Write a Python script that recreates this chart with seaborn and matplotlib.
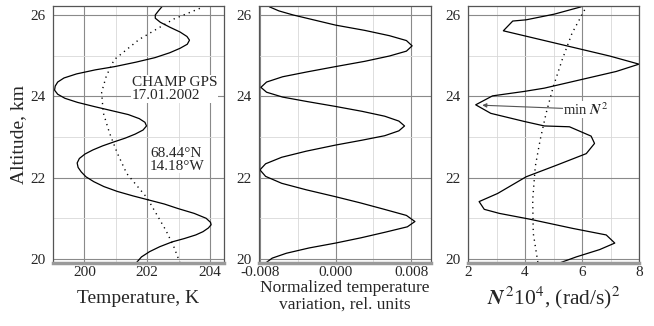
import matplotlib
matplotlib.use("Agg")
import matplotlib.pyplot as plt
import seaborn as sns
import numpy as np
import pandas as pd
from matplotlib.ticker import MultipleLocator, FixedLocator, FixedFormatter

# ---------------- data ----------------
# Panel 1: temperature profile (solid) and background (dotted)
temp_alt = [26.20, 26.10, 26.00, 25.92, 25.82, 25.70, 25.58, 25.47, 25.38, 25.28,
            25.18, 25.07, 24.95, 24.84, 24.73, 24.65, 24.55, 24.45, 24.35, 24.25,
            24.15, 24.05, 23.95, 23.85, 23.75, 23.65, 23.55, 23.45, 23.36, 23.27,
            23.17, 23.07, 22.97, 22.88, 22.78, 22.68, 22.58, 22.47, 22.36, 22.25,
            22.14, 22.02, 21.90, 21.78, 21.66, 21.55, 21.45, 21.35, 21.24, 21.12,
            21.00, 20.90, 20.84, 20.76, 20.67, 20.59, 20.50, 20.42, 20.30, 20.18,
            20.05, 19.90]
temp_val = [202.47, 202.36, 202.26, 202.26, 202.42, 202.72, 203.05, 203.27, 203.35, 203.28,
            203.05, 202.72, 202.25, 201.65, 200.97, 200.35, 199.75, 199.35, 199.15, 199.07,
            199.05, 199.15, 199.38, 199.78, 200.30, 200.85, 201.40, 201.75, 201.93, 201.98,
            201.87, 201.62, 201.30, 200.95, 200.58, 200.27, 200.02, 199.84, 199.77, 199.80,
            199.90, 200.05, 200.30, 200.62, 201.05, 201.55, 202.05, 202.55, 202.98, 203.50,
            203.88, 204.02, 204.04, 203.95, 203.78, 203.55, 203.18, 202.80, 202.40, 202.08,
            201.82, 201.65]
bg_alt = [19.9, 20.3, 20.7, 21.1, 21.5, 22.1, 22.6, 23.1, 23.6, 24.1, 24.5, 24.9, 25.4, 25.9, 26.2]
bg_val = [203.05, 202.85, 202.60, 202.30, 202.00, 201.35, 201.05, 200.80, 200.60, 200.55,
          200.70, 200.95, 201.75, 202.85, 203.80]

# Panel 2: normalized temperature variation
var_alt = [26.20, 26.10, 26.00, 25.90, 25.80, 25.75, 25.62, 25.49, 25.37, 25.24,
           25.11, 24.99, 24.86, 24.73, 24.60, 24.48, 24.35, 24.22, 24.10, 23.98,
           23.87, 23.75, 23.63, 23.51, 23.39, 23.27, 23.15, 23.03, 22.92, 22.80,
           22.65, 22.50, 22.34, 22.19, 22.03, 21.86, 21.70, 21.53, 21.38, 21.23,
           21.07, 20.92, 20.79, 20.66, 20.52, 20.39, 20.27, 20.14, 20.02, 19.90]
var_val = [-0.0070, -0.0060, -0.0045, -0.0027, -0.0009, 0.0000, 0.0031, 0.0057, 0.0075, 0.0081,
           0.0075, 0.0057, 0.0031, 0.0000, -0.0030, -0.0056, -0.0073, -0.0079, -0.0073, -0.0056,
           -0.0030, 0.0000, 0.0028, 0.0052, 0.0067, 0.0073, 0.0067, 0.0052, 0.0028, 0.0000,
           -0.0031, -0.0057, -0.0074, -0.0080, -0.0074, -0.0057, -0.0031, 0.0000, 0.0026, 0.0050,
           0.0075, 0.0084, 0.0076, 0.0053, 0.0027, 0.0000, -0.0028, -0.0052, -0.0067, -0.0074]

# Panel 3: N^2 * 1e4 (solid) and background (dotted)
n2_alt = [26.20, 26.02, 25.88, 25.85, 25.61, 24.99, 24.79, 24.61, 24.20, 24.12,
          24.01, 23.79, 23.58, 23.38, 23.27, 23.25, 23.02, 22.84, 22.59, 22.30,
          22.02, 21.61, 21.41, 21.22, 21.12, 20.98, 20.75, 20.59, 20.39, 20.23,
          20.05, 19.90]
n2_val = [5.97, 5.03, 4.04, 3.57, 3.24, 6.97, 8.00, 7.20, 4.68, 3.98,
          2.86, 2.27, 2.80, 3.98, 4.68, 5.56, 6.32, 6.44, 6.15, 5.09,
          4.04, 3.04, 2.39, 2.57, 3.10, 4.15, 5.68, 6.85, 7.15, 6.62,
          5.80, 5.21]
n2bg_alt = [19.92, 20.63, 21.45, 22.27, 22.92, 23.58, 24.23, 24.89, 25.55, 26.20]
n2bg_val = [4.45, 4.29, 4.27, 4.36, 4.53, 4.74, 4.99, 5.30, 5.65, 6.15]

alt_ticks = [20, 22, 24, 26]
p1_ticks = [200, 202, 204]
p2_ticks = [-0.008, 0.000, 0.008]
p2_labels = ["-0.008", "0.000", "0.008"]
p3_ticks = [2, 4, 6, 8]

# ---------------- style ----------------
sns.set_style("white")
plt.rcParams["font.family"] = ["Liberation Serif", "DejaVu Serif"]
plt.rcParams["mathtext.fontset"] = "stix"
plt.rcParams["axes.unicode_minus"] = False

fig = plt.figure(figsize=(6.54, 3.26), dpi=100)
H = 326.0
W = 654.0
bottom = 1 - 263 / H
height = (263 - 6) / H
axes = [
    fig.add_axes([53 / W, bottom, (224 - 53) / W, height]),
    fig.add_axes([259 / W, bottom, (431 - 259) / W, height]),
    fig.add_axes([468 / W, bottom, (639 - 468) / W, height]),
]

def style(ax, xlim, xticks, xminor):
    ax.set_ylim(19.9, 26.22)
    ax.set_xlim(*xlim)
    ax.yaxis.set_major_locator(FixedLocator(alt_ticks))
    ax.yaxis.set_minor_locator(FixedLocator([21, 23, 25]))
    ax.xaxis.set_major_locator(FixedLocator(xticks))
    ax.xaxis.set_minor_locator(MultipleLocator(xminor))
    ax.grid(which="major", color="#8a8a8a", linewidth=0.8, zorder=0)
    ax.grid(which="minor", color="#d8d8d8", linewidth=0.6, zorder=0)
    ax.set_axisbelow(True)
    for s in ["left", "top", "right"]:
        ax.spines[s].set_color("#555555")
        ax.spines[s].set_linewidth(0.9)
    ax.spines["bottom"].set_color("#9a9a9a")
    ax.spines["bottom"].set_linewidth(2.5)
    ax.tick_params(axis="y", which="major", direction="out", length=4, width=0.8,
                   color="#333333", labelsize=11, pad=1)
    ax.tick_params(axis="y", which="minor", length=0)
    ax.tick_params(axis="x", which="major", direction="in", length=0, labelsize=11, pad=2)
    ax.tick_params(axis="x", which="minor", direction="in", length=3, width=0.8, color="#333333")
    ax.set_ylabel("")

ax1, ax2, ax3 = axes
dotted = (0, (0.9, 3.0))

# Panel 1
sns.lineplot(x=temp_val, y=temp_alt, sort=False, estimator=None, color="black",
             linewidth=0.9, ax=ax1)
sns.lineplot(x=bg_val, y=bg_alt, sort=False, estimator=None, color="black",
             linewidth=1.0, linestyle=dotted, ax=ax1)
style(ax1, (199.0, 204.45), p1_ticks, 1)
ax1.set_xlabel("Temperature, K", fontsize=14, labelpad=8)
ax1.set_ylabel("Altitude, km", fontsize=14, labelpad=3)
ax1.text(201.52, 24.50, "CHAMP GPS\n17.01.2002", fontsize=11, ha="left", va="top",
         linespacing=1.0, zorder=5,
         bbox=dict(facecolor="white", edgecolor="none", pad=0.5))
ax1.text(202.09, 22.76, "68.44°N\n14.18°W", fontsize=11, ha="left", va="top",
         linespacing=1.0, zorder=5,
         bbox=dict(facecolor="white", edgecolor="none", pad=0.5))

# Panel 2
sns.lineplot(x=var_val, y=var_alt, sort=False, estimator=None, color="black",
             linewidth=0.9, ax=ax2)
style(ax2, (-0.0081, 0.0101), p2_ticks, 0.004)
ax2.xaxis.set_major_formatter(FixedFormatter(p2_labels))
ax2.set_xlabel("Normalized temperature\nvariation, rel. units", fontsize=12.5,
               labelpad=1, linespacing=1.0)

# Panel 3
sns.lineplot(x=n2_val, y=n2_alt, sort=False, estimator=None, color="black",
             linewidth=0.9, ax=ax3)
sns.lineplot(x=n2bg_val, y=n2bg_alt, sort=False, estimator=None, color="black",
             linewidth=1.0, linestyle=dotted, ax=ax3)
style(ax3, (2, 8), p3_ticks, 1)
ax3.set_xlabel(r"$\mathbfit{N}^{\,2}$10$^4$, (rad/s)$^2$", fontsize=15.5, labelpad=4)
ax3.annotate(r"min $\mathbfit{N}^{\,2}$", xy=(2.5, 23.78), xytext=(5.35, 23.68),
             fontsize=10.5, ha="left", va="center", zorder=5,
             bbox=dict(facecolor="white", edgecolor="none", pad=0.3),
             arrowprops=dict(arrowstyle="-|>", color="#555555", lw=0.8,
                             mutation_scale=6, shrinkA=0, shrinkB=0))

fig.savefig("out.png", dpi=100)
